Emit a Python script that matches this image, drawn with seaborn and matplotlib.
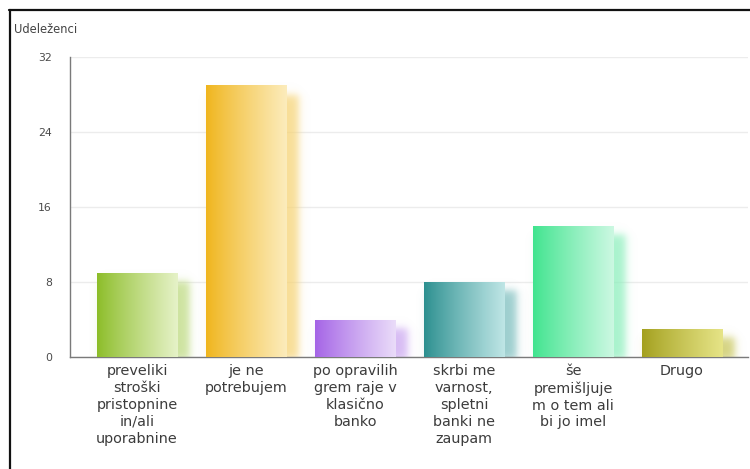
import numpy as np
import pandas as pd
import matplotlib
matplotlib.use("Agg")
import matplotlib.pyplot as plt
import matplotlib.colors as mcolors
from matplotlib.lines import Line2D
import seaborn as sns

# Survey answers and number of respondents
categories = [
    "preveliki\nstroški\npristopnine\nin/ali\nuporabnine",
    "je ne\npotrebujem",
    "po opravilih\ngrem raje v\nklasično\nbanko",
    "skrbi me\nvarnost,\nspletni\nbanki ne\nzaupam",
    "še\npremišljuje\nm o tem ali\nbi jo imel",
    "Drugo",
]
counts = [9, 29, 4, 8, 14, 3]
y_ticks = [0, 8, 16, 24, 32]
y_title = "Udeleženci"

# Left (saturated) and right (pale) colours of each bar gradient
dark_colors = ["#8cbd28", "#f0b51c", "#a463e6", "#2b8f8f", "#3fe48e", "#a3a01e"]
light_colors = ["#e6f2c8", "#fcecbc", "#eadcf9", "#bfe6e6", "#ccf8e2", "#e6e487"]

df = pd.DataFrame({"answer": categories, "count": counts})

sns.set_theme(style="white")
plt.rcParams["font.family"] = ["DejaVu Sans"]

fig = plt.figure(figsize=(7.5, 4.69), dpi=100)
ax = fig.add_axes([70 / 750, 112 / 469, 678 / 750, 300 / 469])

sns.barplot(data=df, x="answer", y="count", hue="answer", palette=dark_colors,
            width=0.74, legend=False, ax=ax, zorder=3, saturation=1)

ax.set_xlim(-0.615, 5.605)
ax.set_ylim(0, 32)
ax.set_yticks(y_ticks)
ax.set_yticklabels([str(t) for t in y_ticks], fontsize=7.8, color="#4a4a4a")
ax.tick_params(axis="y", length=0, pad=13)
ax.tick_params(axis="x", length=0, pad=5)
for lbl in ax.get_xticklabels():
    lbl.set_fontsize(10.4)
    lbl.set_color("#3c3c3c")
    lbl.set_linespacing(1.27)
    lbl.set_verticalalignment("top")
ax.set_xlabel("")
ax.set_ylabel("")

ax.grid(axis="y", color="#ececec", linewidth=1, zorder=0)
for side in ["top", "right"]:
    ax.spines[side].set_visible(False)
for side in ["left", "bottom"]:
    ax.spines[side].set_color("#7a7a7a")
    ax.spines[side].set_linewidth(1.0)

# Gradient fill and soft shadow for every bar
px_x = 1 / 109.0          # data units per pixel horizontally
px_y = 32 / 300.0         # data units per pixel vertically
for i, patch in enumerate(ax.patches):
    x0, w, h = patch.get_x(), patch.get_width(), patch.get_height()
    c0 = np.array(mcolors.to_rgb(dark_colors[i]))
    c1 = np.array(mcolors.to_rgb(light_colors[i]))

    # shadow: pale blurred block shifted to the right and down
    sx0 = x0 + 4 * px_x
    sx1 = x0 + w + 12 * px_x
    sy1 = h - 9 * px_y
    soft = 7.0
    gx = np.linspace(sx0 - 12 * px_x, sx1 + 12 * px_x, 140)
    gy = np.linspace(-10 * px_y, sy1 + 12 * px_y, 140)
    XX, YY = np.meshgrid(gx, gy)
    dx = np.minimum((XX - sx0) / px_x, (sx1 - XX) / px_x)
    dy = np.minimum((YY + 3 * px_y) / px_y, (sy1 - YY) / px_y)
    ax_a = 1 / (1 + np.exp(-dx / (soft / 3)))
    ay_a = 1 / (1 + np.exp(-dy / (soft / 3)))
    alpha = ax_a * ay_a * 0.75
    shade = 0.55 * c1 + 0.45 * c0
    img = np.zeros((len(gy), len(gx), 4))
    img[..., :3] = shade
    img[..., 3] = alpha
    ax.imshow(img, extent=(gx[0], gx[-1], gy[0], gy[-1]), origin="lower",
              aspect="auto", zorder=2, interpolation="bilinear")

    # horizontal gradient clipped to the bar
    t = np.linspace(0, 1, 200) ** 0.9
    grad = np.zeros((2, 200, 3))
    grad[:] = c0[None, :] * (1 - t[:, None]) + c1[None, :] * t[:, None]
    im = ax.imshow(grad, extent=(x0, x0 + w, 0, h), origin="lower",
                   aspect="auto", zorder=4, interpolation="bilinear")
    im.set_clip_path(patch)
    patch.set_edgecolor("none")

ax.set_xlim(-0.615, 5.605)
ax.set_ylim(0, 32)

fig.text(14 / 750, 1 - 33 / 469, y_title, fontsize=8.3, color="#444444",
         ha="left", va="baseline")

# outer frame of the panel
fig.add_artist(Line2D([9 / 750, 1.0], [1 - 10.5 / 469] * 2, color="#111111",
                      linewidth=1.6, transform=fig.transFigure))
fig.add_artist(Line2D([9.5 / 750] * 2, [0, 1 - 10 / 469], color="#111111",
                      linewidth=1.6, transform=fig.transFigure))

fig.savefig("out.png", dpi=100, facecolor="white")
